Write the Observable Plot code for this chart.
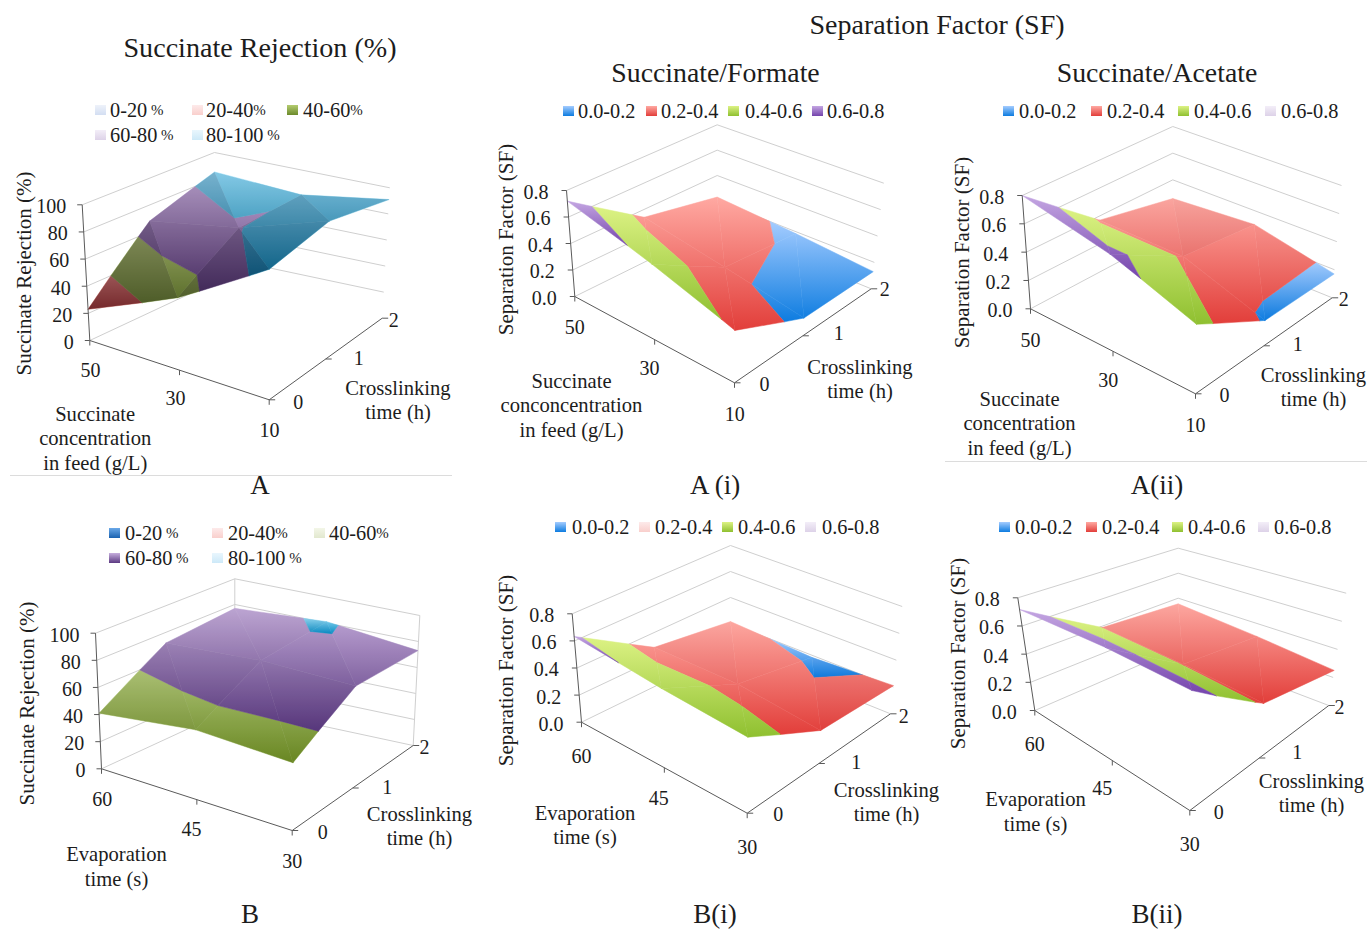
<!DOCTYPE html>
<html>
<head>
<meta charset="utf-8">
<script src="https://cdn.jsdelivr.net/npm/d3@7"></script>
<script src="https://cdn.jsdelivr.net/npm/@observablehq/plot@0.6"></script>
<style>
  html, body { margin: 0; padding: 0; background: #fff; }
  #fig { position: relative; width: 1367px; height: 929px; overflow: hidden; font-family: "Liberation Serif", serif; color: #1c1c1c; }
  #fig > svg, #fig > .panel { position: absolute; }
  .t { position: absolute; transform: translate(-50%, -50%); white-space: nowrap; line-height: 1.1; }
  .k { position: absolute; font-size: 20.3px; line-height: 1; transform: translateY(-50%); white-space: nowrap; }
  .k small { font-size: 15px; position: relative; top: -2px; }
  .s { position: absolute; width: 11px; height: 10px; transform: translateY(-50%); }
  .rule { position: absolute; height: 1px; background: #dcdcdc; }
</style>
</head>
<body>
<div id="fig"></div>
<script>
// ---------- values ----------
const concTicks = [50, 30, 10];
const evapTicks = [60, 45, 30];
const crossTicks = [0, 1, 2];
const rejectionTicks = [0, 20, 40, 60, 80, 100];
const factorTicks = [0, 0.2, 0.4, 0.6, 0.8];

// rows follow the feed axis (first label to last), columns crosslinking time 0, 1, 2 h
const rejectionA = [[23, 68, 85], [51, 79, 81], [88, 99, 91]];
const formateA   = [[0.72, 0.34, 0.23], [0.55, 0.235, 0.185], [0.37, 0.13, 0.13]];
const acetateA   = [[0.80, 0.37, 0.26], [0.67, 0.37, 0.30], [0.47, 0.176, 0.17]];
const rejectionB = [[41, 72, 77], [51, 77, 81], [49, 76, 73]];
const formateB   = [[0.633, 0.29, 0.215], [0.568, 0.30, 0.184], [0.529, 0.238, 0.21]];
const acetateB   = [[0.717, 0.39, 0.355], [0.735, 0.38, 0.305], [0.72, 0.356, 0.25]];

const rejectionKeys = ["0-20", "20-40", "40-60", "60-80", "80-100"];
const factorKeys = ["0.0-0.2", "0.2-0.4", "0.4-0.6", "0.6-0.8"];

// ---------- colours ----------
const dark = {blue: ["#7fb8f0", "#1a62b0"], red: ["#e07c70", "#a83a30"], green: ["#b4cc70", "#6c8a2c"], purple: ["#c8aede", "#5a3c78"], sky: ["#8fdcf9", "#0a7ca4"]};
const soft = {blue: ["#a4ccff", "#0d7ce0"], red: ["#ffa9a2", "#e23e3a"], green: ["#dcf284", "#8fc030"], purple: ["#c4a6e2", "#7444ac"], sky: ["#8fdcf9", "#0a80b8"]};
const mid  = {blue: ["#6aa8e8", "#1a62b0"], red: ["#ffa9a2", "#e23e3a"], green: ["#bad47c", "#6f9022"], purple: ["#c6aedd", "#5c3a82"], sky: ["#8fdcf9", "#0a90c8"]};
const pale = {blue: ["#eef2fa", "#d3def2"], red: ["#fdeaea", "#f9cfcc"], green: ["#f3f6e8", "#e2e8cf"], purple: ["#f3eef8", "#ddd2e8"], sky: ["#e9f6fd", "#cde9f8"]};
const bandNames5 = ["blue", "red", "green", "purple", "sky"];
const palettes = {dark, soft, mid};

// ---------- layout ----------
const panels = [
  {grid: rejectionA, cats: concTicks, zs: rejectionTicks, fmt: d => String(d), palette: "dark", relief: 1, keys: rejectionKeys, vivid: [0,0,1,0,0],
   frame: [0, 125, 480, 355],
   L: [89.3,340,81.7,204.3], B: [214,281.7,214,152], R: [381.7,317.7,389.3,187.3], F: [268.7,399.3,268.7,251],
   catOff: [[0.7,30],[-4,28.8],[0.3,30.7]], timeOff: [[29,2.4],[33,-0.2],[11.6,2.3]], rightFloor: false, frameLines: false, zDx: -16,
   yLabel: "Succinate Rejection (%)", yAt: [23.5,273], catLabel: "Succinate\nconcentration\nin feed (g/L)", catAt: [94.7,437], timeAt: [397.5,398.5],
   keyRows: [[110,[95,110],[192,206],[287,303]],[135,[95,110],[192,206]]], keyPct: [" %","%","%"," %"," %"]},
  {grid: formateA, cats: concTicks, zs: factorTicks, fmt: d => d.toFixed(1), palette: "soft", relief: 0, keys: factorKeys, vivid: [1,1,1,1],
   frame: [480, 125, 450, 335],
   L: [574.3,296,566,190], B: [716.7,225.7,716.7,124.3], R: [870.7,288.3,883.3,182.7], F: [734,382.3,735,269],
   catOff: [[0,31.3],[-5.2,29.1],[0.3,31.7]], timeOff: [[30,1.7],[35.9,-2],[13.6,0.7]], rightFloor: true, frameLines: false, zDx: -18,
   yLabel: "Separation Factor (SF)", yAt: [506,239], catLabel: "Succinate\nconconcentration\nin feed (g/L)", catAt: [571,404], timeAt: [859.5,377.5],
   keyRows: [[111,[563,578],[646,661],[728,745],[812,827]]]},
  {grid: acetateA, cats: concTicks, zs: factorTicks, fmt: d => d.toFixed(1), palette: "soft", relief: 0.35, keys: factorKeys, vivid: [1,1,1,0],
   frame: [930, 125, 437, 340],
   L: [1030,308.3,1021.7,195], B: [1172.3,232.7,1172.3,126], R: [1331.7,297.3,1341,185], F: [1195,393.3,1196.7,275],
   catOff: [[0,31.7],[-4.8,29.2],[0,31.7]], timeOff: [[29,1.7],[33.9,-1.3],[11.6,2]], rightFloor: true, frameLines: false, zDx: -18,
   yLabel: "Separation Factor (SF)", yAt: [962,252], catLabel: "Succinate\nconcentration\nin feed (g/L)", catAt: [1019,422], timeAt: [1313,385.5],
   keyRows: [[111,[1003,1019],[1091,1107],[1178,1194],[1265,1281]]]},
  {grid: rejectionB, cats: evapTicks, zs: rejectionTicks, fmt: d => String(d), palette: "mid", relief: 0.45, keys: rejectionKeys, vivid: [1,0,0,1,0],
   frame: [0, 565, 480, 335],
   L: [101,768.3,95,632.7], B: [234.3,706.7,234.3,578.3], R: [412.7,745,419.3,615], F: [291.7,830,293.3,691.7],
   catOff: [[0.7,31],[-5.4,30.1],[0,31]], timeOff: [[30.6,1.7],[34.5,-0.8],[11.3,2.3]], rightFloor: true, frameLines: true, zDx: -16,
   yLabel: "Succinate Rejection (%)", yAt: [26.7,703], catLabel: "Evaporation\ntime (s)", catAt: [116,865], timeAt: [419,824.5],
   keyRows: [[533,[109,125],[212,228],[314,329]],[558,[109,125],[212,228]]], keyPct: [" %","%","%"," %"," %"]},
  {grid: formateB, cats: evapTicks, zs: factorTicks, fmt: d => d.toFixed(1), palette: "soft", relief: 0.2, keys: factorKeys, vivid: [1,0,1,0],
   frame: [480, 535, 450, 365],
   L: [581,721.7,571.7,613.3], B: [730,649,730,545], R: [890,713.3,901.7,606], F: [746.7,812.7,747.7,697.7],
   catOff: [[0,34.3],[-5.6,30.5],[0,34]], timeOff: [[31,1.3],[37.3,-1.3],[13.3,2.7]], rightFloor: true, frameLines: false, zDx: -18,
   yLabel: "Separation Factor (SF)", yAt: [506,670], catLabel: "Evaporation\ntime (s)", catAt: [584.5,823.5], timeAt: [886,800.5],
   keyRows: [[527,[555,572],[639,655],[722,738],[805,822]]]},
  {grid: acetateB, cats: evapTicks, zs: factorTicks, fmt: d => d.toFixed(1), palette: "soft", relief: 0.15, keys: factorKeys, vivid: [1,1,1,0],
   frame: [930, 535, 437, 365],
   L: [1034.3,710,1017.3,597.3], B: [1177.7,647.7,1177.7,547.7], R: [1328.3,705,1345.7,592.7], F: [1189.3,810,1191.7,676.7],
   catOff: [[0,34.3],[-10,27.7],[0,34.3]], timeOff: [[29,1.7],[37.9,-5.2],[10.7,1.7]], rightFloor: true, frameLines: false, zDx: -18,
   yLabel: "Separation Factor (SF)", yAt: [958,653], catLabel: "Evaporation\ntime (s)", catAt: [1035,810], timeAt: [1311,791.5],
   keyRows: [[527,[999,1015],[1086,1102],[1172,1188],[1258,1274]]]}
];

const headings = [
  ["Succinate Rejection (%)", 260, 48, 28.1], ["Separation Factor (SF)", 937, 25, 28],
  ["Succinate/Formate", 715.5, 73, 27.8], ["Succinate/Acetate", 1157, 73, 27.8],
  ["A", 260, 486, 27], ["A (i)", 715, 486, 27], ["A(ii)", 1157, 486, 27],
  ["B", 250, 915, 27], ["B(i)", 715, 915, 27], ["B(ii)", 1157, 915, 27]
];
const rules = [[10, 475, 442], [945, 461, 422]];

// ---------- helpers ----------
const fig = document.getElementById("fig");
const timeLabel = "Crosslinking\ntime (h)";
const axisColor = "#5a5a5a", gridColor = "#cfcfcf", textColor = "#1c1c1c";

const NS = "http://www.w3.org/2000/svg";
const defsSvg = document.createElementNS(NS, "svg");
defsSvg.setAttribute("width", 0); defsSvg.setAttribute("height", 0);
const defs = document.createElementNS(NS, "defs");
defsSvg.appendChild(defs); fig.appendChild(defsSvg);

// a top-to-bottom gradient that spans one band of one surface
function addGradient(id, cols, y1, y2) {
  const g = document.createElementNS(NS, "linearGradient");
  g.setAttribute("id", id);
  g.setAttribute("gradientUnits", "userSpaceOnUse");
  g.setAttribute("x1", 0); g.setAttribute("x2", 0);
  g.setAttribute("y1", y1); g.setAttribute("y2", y2 > y1 ? y2 : y1 + 1);
  [[0, cols[0]], [1, cols[1]]].forEach(([o, c]) => {
    const st = document.createElementNS(NS, "stop");
    st.setAttribute("offset", o); st.setAttribute("stop-color", c); g.appendChild(st);
  });
  defs.appendChild(g);
}

function projector(p) {
  const lerp = (a, b, t) => a + (b - a) * t;
  return (u, v, w) => {
    const at = i => lerp(lerp(lerp(p.L[i], p.F[i], u), lerp(p.B[i], p.R[i], u), v),
                         lerp(lerp(p.L[i+2], p.F[i+2], u), lerp(p.B[i+2], p.R[i+2], u), v), w);
    return [at(0), at(1)];
  };
}

// keep the part of a polygon on one side of a height
function clip(poly, keep, cross) {
  const out = [];
  poly.forEach((a, i) => {
    const b = poly[(i + 1) % poly.length];
    if (keep(a)) out.push(a);
    if (keep(a) !== keep(b)) {
      const t = (cross - a.z) / (b.z - a.z);
      out.push({u: a.u + (b.u - a.u) * t, v: a.v + (b.v - a.v) * t, z: cross});
    }
  });
  return out;
}

function surfaceRows(p, idx) {
  const proj = projector(p);
  const zMax = p.zs[p.zs.length - 1];
  const fy = p.frame[1];
  const vert = (i, j) => ({u: i / 2, v: j / 2, z: p.grid[i][j]});
  const cells = [];
  for (let i = 0; i < 2; i++) for (let j = 0; j < 2; j++) cells.push([i, j]);
  cells.sort((a, b) => (a[0] - a[1]) - (b[0] - b[1]));  // back to front
  const pieces = [];
  for (const [i, j] of cells) {
    const tris = [
      [vert(i, j), vert(i + 1, j), vert(i, j + 1)],
      [vert(i + 1, j), vert(i + 1, j + 1), vert(i, j + 1)]
    ];
    tris.forEach((tri, ti) => {
      // facets that rise toward the viewer fall into shadow
      const scale = 100 / zMax;
      const du = ti === 0 ? tri[1].z - tri[0].z : tri[1].z - tri[2].z;
      const dv = ti === 0 ? tri[2].z - tri[0].z : tri[1].z - tri[0].z;
      const shade = p.relief * Math.max(0, Math.min(0.36, 0.005 * ((du + 0.5 * dv) * scale + 20)));
      for (let b = 0; b < p.zs.length - 1; b++) {
        const lo = p.zs[b], hi = p.zs[b + 1];
        let poly = clip(tri, a => a.z >= lo, lo);
        if (poly.length) poly = clip(poly, a => a.z <= hi, hi);
        if (poly.length >= 3) pieces.push({poly, b, shade});
      }
    });
  }
  const rows = [], shadeRows = [];
  const bands = d3.group(pieces, d => d.b);
  for (const [b, list] of bands) {
    const ys = list.flatMap(q => q.poly.map(a => proj(a.u, a.v, a.z / zMax)[1]));
    addGradient(`g${idx}-${b}`, palettes[p.palette][bandNames5[b]], d3.min(ys) - fy, d3.max(ys) - fy);
  }
  pieces.forEach(({poly, b, shade}, n) => {
    [...poly, poly[0]].forEach(q => {
      const [x, y] = proj(q.u, q.v, q.z / zMax);
      const row = {id: `${idx}-${n}`, x, y, fill: `url(#g${idx}-${b})`, shade};
      rows.push(row);
      if (shade > 0.005) shadeRows.push(row);
    });
  });
  return {rows, shadeRows};
}

function drawPanel(p, idx) {
  const proj = projector(p);
  const zMax = p.zs[p.zs.length - 1];
  const w = z => z / zMax;
  const [fx, fy, fw, fh] = p.frame;

  const edge = (a, b) => ({x1: a[0], y1: a[1], x2: b[0], y2: b[1]});
  const wallLeft = p.zs.map(z => edge(proj(0,0,w(z)), proj(0,1,w(z))));
  const wallRight = p.zs.filter(z => z > 0 || p.rightFloor).map(z => edge(proj(0,1,w(z)), proj(1,1,w(z))));
  const verticals = p.frameLines ? [edge(proj(0,1,0), proj(0,1,1)), edge(proj(1,1,0), proj(1,1,1))] : [];
  const axes = [edge(proj(0,0,0), proj(0,0,1)), edge(proj(0,0,0), proj(1,0,0)), edge(proj(1,0,0), proj(1,1,0))];
  const ticks = [];
  const zLabels = p.zs.map(z => {
    const a = proj(0,0,w(z));
    ticks.push(edge(a, [a[0] - 5, a[1]]));
    return {x: a[0] + p.zDx, y: a[1] + 2, text: p.fmt(z)};
  });
  const catLabels = p.cats.map((c, i) => {
    const a = proj(i/2,0,0);
    ticks.push(edge(a, [a[0], a[1] + 5]));
    return {x: a[0] + p.catOff[i][0], y: a[1] + p.catOff[i][1], text: String(c)};
  });
  const timeLabels = crossTicks.map((c, i) => {
    const a = proj(1,i/2,0);
    ticks.push(edge(a, [a[0] + 6, a[1]]));
    return {x: a[0] + p.timeOff[i][0], y: a[1] + p.timeOff[i][1], text: String(c)};
  });
  const {rows, shadeRows} = surfaceRows(p, idx);

  const link = (data, stroke) => Plot.link(data, {x1:"x1", y1:"y1", x2:"x2", y2:"y2", stroke, strokeWidth: 1});
  const chart = Plot.plot({
    width: fw, height: fh, margin: 0,
    x: {domain: [fx, fx + fw], range: [0, fw], axis: null},
    y: {domain: [fy, fy + fh], range: [0, fh], axis: null},
    style: {background: "transparent", fontFamily: "'Liberation Serif', serif", overflow: "visible"},
    marks: [
      link(wallLeft, gridColor),
      link(wallRight, gridColor),
      link(verticals, gridColor),
      Plot.line(rows, {x: "x", y: "y", z: "id", fill: "fill", stroke: "fill", strokeWidth: 0.5}),
      Plot.line(shadeRows, {x: "x", y: "y", z: "id", fill: "#1a0a24", fillOpacity: "shade", stroke: "none"}),
      link(axes, axisColor),
      link(ticks, axisColor),
      Plot.text(zLabels, {x: "x", y: "y", text: "text", textAnchor: "end", fontSize: 20, fill: textColor}),
      Plot.text([...catLabels, ...timeLabels], {x: "x", y: "y", text: "text", fontSize: 20, fill: textColor}),
      Plot.text([{x: p.yAt[0], y: p.yAt[1], text: p.yLabel}], {x: "x", y: "y", text: "text", rotate: -90, fontSize: 21, fill: textColor}),
      Plot.text([{x: p.catAt[0], y: p.catAt[1], text: p.catLabel}], {x: "x", y: "y", text: "text", fontSize: 20.6, lineHeight: 1.21, fill: textColor}),
      Plot.text([{x: p.timeAt[0], y: p.timeAt[1], text: timeLabel}], {x: "x", y: "y", text: "text", fontSize: 20.6, lineHeight: 1.21, fill: textColor})
    ]
  });
  chart.style.left = fx + "px";
  chart.style.top = fy + "px";
  fig.appendChild(chart);

  // legend
  let k = 0;
  for (const row of p.keyRows) {
    const y = row[0];
    for (const [sx, tx] of row.slice(1)) {
      const band = bandNames5[k];
      const cols = p.vivid[k] ? palettes[p.palette][band] : pale[band];
      const s = document.createElement("div");
      s.className = "s";
      s.style.cssText = `left:${sx}px;top:${y}px;background:linear-gradient(${cols[0]},${cols[1]})`;
      fig.appendChild(s);
      const t = document.createElement("div");
      t.className = "k";
      t.style.left = tx + "px"; t.style.top = y + "px";
      t.textContent = p.keys[k];
      if (p.keyPct) { const sm = document.createElement("small"); sm.textContent = p.keyPct[k]; t.appendChild(sm); }
      fig.appendChild(t);
      k++;
    }
  }
}

panels.forEach(drawPanel);

for (const [text, x, y, size] of headings) {
  const d = document.createElement("div");
  d.className = "t"; d.textContent = text;
  d.style.cssText = `left:${x}px;top:${y}px;font-size:${size}px`;
  fig.appendChild(d);
}
for (const [x, y, w] of rules) {
  const d = document.createElement("div");
  d.className = "rule";
  d.style.cssText = `left:${x}px;top:${y}px;width:${w}px`;
  fig.appendChild(d);
}
</script>
</body>
</html>
